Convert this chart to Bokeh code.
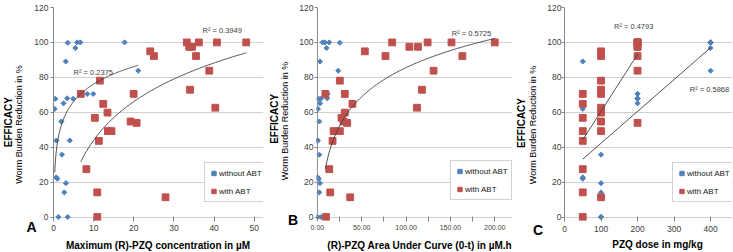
import numpy as np
from bokeh.plotting import figure
from bokeh.models import (Range1d, FixedTicker, Label, Span, Legend, LegendItem,
                          NumeralTickFormatter)
from bokeh.layouts import row
from bokeh.embed import file_html
from bokeh.resources import INLINE

FONT = "Liberation Sans"
BLUE = "#4F81BD"
RED = "#C0504D"
GRID = "#D0D0D0"
AXIS = "#868686"
TXT = "#404040"

# ---------------- data: panel A (max (R)-PZQ concentration, uM) ----------------
a_without_x = [0.45, 0.3, 0.7, 0.7, 0.95, 1.2, 1.95, 2.1, 2.5, 2.7, 3.1, 3.05, 3.4, 3.55,
               3.55, 4.05, 4.9, 5.45, 5.9, 6.7, 8.4, 9.9, 17.7, 21.1]
a_without_y = [67.7, 61.9, 43.8, 22.7, 21.9, 0, 54.7, 35.7, 65.1, 14.1, 19.4, 89.1, 68, 99.8,
               0, 43.8, 67.7, 96.8, 100, 100, 70.5, 70.5, 100, 83.8]
a_with_x = [6.8, 8.2, 10.3, 10.9, 10.9, 11.3, 11.55, 12.4, 13.45, 13.55, 14.45, 19.2, 19.95,
            20.7, 24.1, 25.0, 27.9, 33.2, 33.8, 34.0, 34.5, 35.5, 36.2, 38.8, 40.3, 40.7, 48.0]
a_with_y = [70.5, 27.4, 56.8, 14.1, 0, 43.6, 78.1, 64.8, 59.8, 49.2, 49.2, 54.7, 70.5,
            53.9, 94.9, 92.2, 11.3, 100, 97.5, 72.9, 97.5, 92.2, 100, 83.8, 62.6, 100, 100]

# ---------------- data: panel B ((R)-PZQ AUC 0-t, uM.h) ----------------
b_without_x = [5.9, 8.5, 13.4, 25.3, 10.4, 2.9, 23.5, 11.5, 9.5, 11.0, 1.5, 4.0, 3.0, 0.7,
               2.2, 0.0, 0.5, 2.2, 0.3, 1.5, 2.9, 2.2, 0.3, 4.0]
b_without_y = [100, 100, 100, 99.8, 96.8, 89.1, 83.8, 70.5, 70.5, 68, 67.7, 67.7, 65.1, 61.9,
               54.7, 43.8, 43.8, 35.7, 22.7, 21.9, 19.4, 14.1, 0, 0]
b_with_x = [9.0, 25.3, 30.9, 39.5, 30.9, 27.2, 53.5, 13.4, 14.5, 37.0, 9.7, 17.1, 18.3, 25.3,
            29.5, 33.6, 76.8, 84.3, 103.7, 113.4, 124.3, 117.9, 112.3, 131.0, 151.2, 163.5, 200.0]
b_with_y = [70.5, 78.1, 70.5, 64.8, 59.8, 56.8, 94.9, 27.4, 14.1, 11.3, 0, 43.6, 49.2, 49.2,
            54.7, 53.9, 92.2, 100, 97.5, 97.5, 100, 72.9, 62.6, 83.8, 100, 92.2, 100]

# ---------------- data: panel C (PZQ dose, mg/kg) ----------------
c_without_x = [50, 50, 50, 50, 50, 50,
               100, 100, 100, 100, 100, 100,
               200, 200, 200, 200, 200, 200,
               400, 400, 400, 400, 400, 400]
c_without_y = [89.1, 61.9, 22.7, 21.9, 43.8, 43.8,
               54.7, 35.7, 19.4, 14.1, 0, 0,
               70.5, 70.5, 67.7, 67.7, 68, 65.1,
               100, 100, 100, 99.8, 96.8, 83.8]
c_with_x = [50, 50, 50, 50, 50, 50, 50, 50,
            100, 100, 100, 100, 100, 100, 100, 100, 100, 100,
            200, 200, 200, 200, 200, 200, 200, 200, 200]
c_with_y = [70.5, 64.8, 56.8, 49.2, 43.6, 27.4, 14.1, 0,
            94.9, 92.2, 78.1, 72.9, 70.5, 62.6, 59.8, 54.7, 49.2, 11.3,
            100, 100, 100, 100, 97.5, 97.5, 92.2, 83.8, 53.9]

y_ticks = [0, 20, 40, 60, 80, 100, 120]
r2_labels = {"A_without": "R\u00b2 = 0.2375", "A_with": "R\u00b2 = 0.3949",
             "B_with": "R\u00b2 = 0.5725", "C_with": "R\u00b2 = 0.4793",
             "C_without": "R\u00b2 = 0.5868"}


def log_trend(x, y):
    x = np.asarray(x, float)
    y = np.asarray(y, float)
    m = x > 0
    a, b = np.polyfit(np.log(x[m]), y[m], 1)
    xs = np.linspace(x[m].min(), x[m].max(), 120)
    return xs, a * np.log(xs) + b


def lin_trend(x, y):
    x = np.asarray(x, float)
    y = np.asarray(y, float)
    a, b = np.polyfit(x, y, 1)
    xs = np.array([x.min(), x.max()])
    return xs, a * xs + b


def panel(width, bl, br, bt, bb, xr, xticks, xminor, xfmt, xfs, ytick_in, ytick_out,
          ystandoff, xstandoff, span_axis):
    p = figure(width=width, height=252, x_range=Range1d(*xr), y_range=Range1d(-2, 120),
               output_backend="svg", toolbar_location=None,
               min_border_left=bl, min_border_right=br, min_border_top=bt,
               min_border_bottom=bb)
    p.outline_line_color = None
    p.xgrid.visible = False
    p.ygrid.ticker = FixedTicker(ticks=y_ticks)
    p.ygrid.grid_line_color = GRID
    p.ygrid.grid_line_width = 1

    ya = p.yaxis[0]
    ya.ticker = FixedTicker(ticks=y_ticks)
    ya.minor_tick_line_color = None
    ya.major_tick_in = ytick_in
    ya.major_tick_out = ytick_out
    ya.major_tick_line_color = AXIS
    ya.major_label_standoff = ystandoff
    ya.major_label_text_font = FONT
    ya.major_label_text_font_size = "8.5px"
    ya.major_label_text_color = TXT
    if span_axis:
        ya.axis_line_color = None
        p.add_layout(Span(location=0, dimension="height", line_color=AXIS, line_width=1))
    else:
        ya.axis_line_color = AXIS

    xa = p.xaxis[0]
    xa.ticker = FixedTicker(ticks=xticks, minor_ticks=xminor)
    xa.axis_line_color = None
    xa.major_tick_in = 4
    xa.major_tick_out = 1
    xa.minor_tick_in = 4
    xa.minor_tick_out = 1
    xa.major_tick_line_color = AXIS
    xa.minor_tick_line_color = AXIS
    xa.major_label_standoff = xstandoff
    xa.major_label_text_font = FONT
    xa.major_label_text_font_size = xfs
    xa.major_label_text_color = TXT
    if xfmt:
        xa.formatter = NumeralTickFormatter(format=xfmt)
    return p


def add_series(p, wx, wy, rx, ry):
    rb = p.scatter(wx, wy, marker="square", angle=np.pi / 4, size=3.6,
                   fill_color=BLUE, line_color=BLUE)
    rr = p.scatter(rx, ry, marker="square", size=6.8, fill_color=RED, line_color=RED)
    return rb, rr


def add_legend(p, rb, rr, loc):
    lg = Legend(items=[LegendItem(label="without ABT", renderers=[rb]),
                       LegendItem(label="with ABT", renderers=[rr])],
                location=loc, margin=0, padding=3, spacing=4,
                glyph_width=11, glyph_height=14, label_height=14, label_standoff=0,
                label_text_font=FONT, label_text_font_size="8px",
                label_text_color="#202020",
                border_line_color="#A6A6A6", border_line_width=1,
                background_fill_color="white", background_fill_alpha=1)
    p.add_layout(lg, "center")


def side_label(p, side, x, y, text, size, bold=False, angle=0.0):
    # annotation in a side panel (not clipped); x, y are pixel offsets in that panel
    p.add_layout(Label(x=x, y=y, x_units="screen", y_units="screen",
                       text=text, angle=angle, text_align="center",
                       text_baseline="middle", text_font=FONT, text_font_size=size,
                       text_font_style="bold" if bold else "normal",
                       text_color="black"), side)


def titles(p, eff, worm, xt, xtext, letter, letter_pos):
    side_label(p, "left", letter_pos[0], letter_pos[1], letter, "14px", True)
    side_label(p, "left", worm[0], worm[1], "Worm Burden Reduction in %", "9px", False,
               np.pi / 2)
    side_label(p, "left", eff[0], eff[1], "EFFICACY", "10px", True, np.pi / 2)
    side_label(p, "below", xt[0], xt[1], xtext, "10px", True)


def r2(p, x, y, text):
    p.add_layout(Label(x=x, y=y, text=text, text_align="left", text_baseline="middle",
                       text_font=FONT, text_font_size="7.5px", text_color=TXT))


TREND = dict(line_color="#404040", line_width=0.9)

# ---------- Panel A ----------
pA = panel(265, 51, 2, 6, 32, (0, 52.3), [0, 10, 20, 30, 40, 50], [], None, "8.5px",
           0, 3, 2, 3, False)
rb, rr = add_series(pA, a_without_x, a_without_y, a_with_x, a_with_y)
xs, ys = log_trend(a_without_x, a_without_y)
pA.line(xs, ys, **TREND)
xs, ys = log_trend(a_with_x, a_with_y)
pA.line(xs, ys, **TREND)
r2(pA, 5.0, 82.9, r2_labels["A_without"])
r2(pA, 37.1, 106.7, r2_labels["A_with"])
add_legend(pA, rb, rr, (151, 18))
titles(pA, (7.55, 98.3), (7.35, 96), (104.5, -1.3),
       "Maximum (R)-PZQ concentration in \u00b5M", "A", (10, -6.7))

# ---------- Panel B ----------
pB = panel(248, 49, 1, 4, 30, (-1, 220), [0, 50, 100, 150, 200], [25, 75, 125, 175],
           "0.00", "7px", 1, 2, 1, 3, True)
rb, rr = add_series(pB, b_without_x, b_without_y, b_with_x, b_with_y)
xs, ys = log_trend(b_with_x, b_with_y)
pB.line(xs, ys, **TREND)
r2(pB, 151.5, 105.2, r2_labels["B_with"])
add_legend(pB, rb, rr, (134, 20))
titles(pB, (8.75, 101.7), (8.65, 99.5), (103.2, -1.7),
       "(R)-PZQ Area Under Curve (0-t) in \u00b5M.h", "B", (6.6, 0.3))

# ---------- Panel C ----------
pC = panel(220, 49, 1, 7, 32, (0, 460), [0, 100, 200, 300, 400], [], None, "8.5px",
           0, 3, 0, 4, False)
rb, rr = add_series(pC, c_without_x, c_without_y, c_with_x, c_with_y)
xs, ys = lin_trend(c_with_x, c_with_y)
pC.line(xs, ys, **TREND)
xs, ys = lin_trend(c_without_x, c_without_y)
pC.line(xs, ys, **TREND)
r2(pC, 135.5, 109.3, r2_labels["C_with"])
r2(pC, 343, 72.9, r2_labels["C_without"])
add_legend(pC, rb, rr, (108, 18))
titles(pC, (8.25, 97.5), (8.65, 95.5), (93, 0.7),
       "PZQ dose in mg/kg", "C", (3.6, -9.3))

layout = row(pA, pB, pC)
open("out.html", "w").write(file_html(layout, INLINE))
